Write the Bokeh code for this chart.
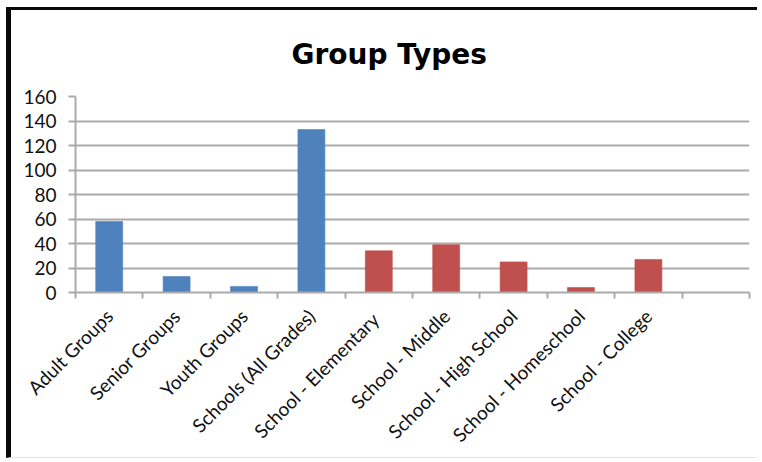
import math
import numpy as np
from bokeh.plotting import figure
from bokeh.models import FixedTicker, ColumnDataSource, Range1d
from bokeh.embed import file_html
from bokeh.resources import INLINE

# ---- data ----
categories = ["Adult Groups", "Senior Groups", "Youth Groups", "Schools (All Grades)",
              "School  - Elementary", "School - Middle", "School - High School",
              "School - Homeschool", "School - College"]
counts = [58, 13, 5, 133, 34, 39, 25, 4, 27]
groups = ["general", "general", "general", "general",
          "school", "school", "school", "school", "school"]
group_colors = {"general": "#4f81bd", "school": "#c0504d"}
y_tick_values = [0, 20, 40, 60, 80, 100, 120, 140, 160]
n_slots = len(categories) + 1  # the chart keeps one empty slot at the end
title_text = "Group Types"

FONT = "Lato"

centers = [i + 0.5 for i in range(len(categories))]
boundaries = list(range(n_slots + 1))

src = ColumnDataSource(dict(
    x=centers,
    top=counts,
    color=[group_colors[g] for g in groups],
    name=categories,
))

p = figure(width=751, height=451, title=title_text,
           x_range=Range1d(0, n_slots), y_range=Range1d(0, y_tick_values[-1]),
           output_backend="svg", toolbar_location=None,
           min_border_left=64, min_border_right=13,
           min_border_top=86, min_border_bottom=169)
p.styles = {"margin-left": "6px", "margin-top": "7px",
            "border-left": "5px solid #0a0a0a", "border-top": "3px solid #0a0a0a",
            "border-bottom": "1px solid #e4e4e4"}

p.title.align = "left"
p.title.offset = 216
p.title.text_font = "DejaVu Sans"
p.title.text_font_size = "28px"
p.title.text_font_style = "bold"
p.title.text_color = "#000000"
p.title.standoff = 51

p.outline_line_color = None
p.background_fill_color = "white"
p.border_fill_color = "white"

p.vbar(x="x", top="top", width=0.4, bottom=0, color="color", source=src,
       line_color="color", line_alpha=0.6)

# grid
p.xgrid.visible = False
p.ygrid.ticker = FixedTicker(ticks=y_tick_values)
p.ygrid.grid_line_color = "#aaaaaa"
p.ygrid.grid_line_width = 2

# y axis
ya = p.yaxis[0]
ya.ticker = FixedTicker(ticks=y_tick_values)
ya.axis_line_color = "#aaaaaa"
ya.axis_line_width = 2
ya.major_tick_line_color = "#aaaaaa"
ya.major_tick_line_width = 2
ya.major_tick_out = 7
ya.major_tick_in = 0
ya.minor_tick_line_color = None
ya.major_label_text_font = FONT
ya.major_label_text_font_size = "19px"
ya.major_label_text_color = "#111111"
ya.major_label_standoff = 12

# x axis
xa = p.xaxis[0]
xa.ticker = FixedTicker(ticks=centers, minor_ticks=boundaries)
xa.major_label_overrides = {c: name for c, name in zip(centers, categories)}
xa.major_tick_line_color = None
xa.major_tick_out = 0
xa.major_tick_in = 0
xa.minor_tick_line_color = "#aaaaaa"
xa.minor_tick_line_width = 2
xa.minor_tick_out = 6
xa.minor_tick_in = 0
xa.axis_line_color = "#aaaaaa"
xa.axis_line_width = 2
xa.major_label_orientation = math.pi / 4
xa.major_label_text_font = FONT
xa.major_label_text_font_size = "19px"
xa.major_label_text_color = "#111111"
xa.major_label_standoff = 14

open("out.html", "w").write(file_html(p, INLINE))
